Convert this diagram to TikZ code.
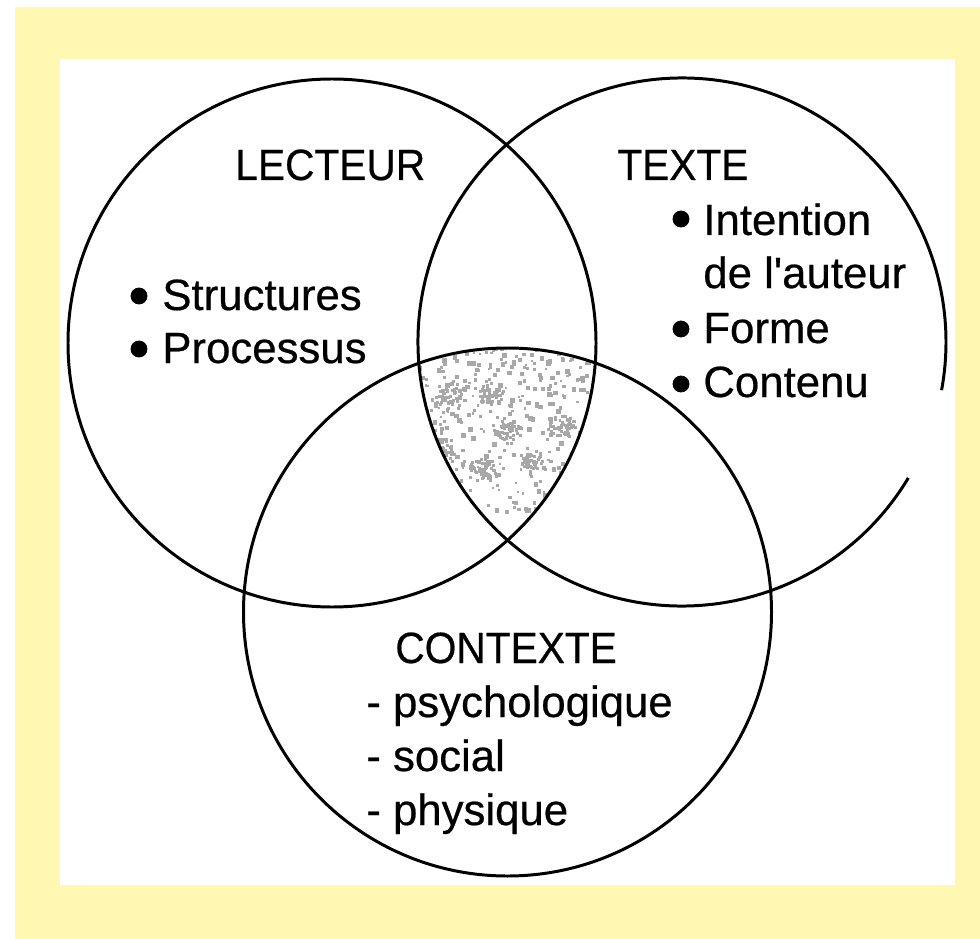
\documentclass[tikz,border=0pt]{standalone}
\usepackage{fontspec}
\setmainfont{Liberation Sans}
\newfontfamily\labelfont[FakeBold=0.5]{Liberation Sans}
\definecolor{paleyellow}{RGB}{255,247,178}
\definecolor{speck}{RGB}{168,168,168}
\begin{document}
\begin{tikzpicture}[x=0.02cm,y=-0.02cm,
  ring/.style={line width=1.7pt, draw=black},
  lbl/.style={anchor=base west, inner sep=0pt, font=\labelfont\fontsize{24.9pt}{30pt}\selectfont},
  bul/.style={circle, fill=black, inner sep=0pt, minimum size=9.6pt}]
\useasboundingbox (0,0) rectangle (980,939);
\fill[white] (0,0) rectangle (980,939);
\fill[paleyellow] (15,7) rectangle (980,939);
\fill[white] (60,59) rectangle (955,885);

\coordinate (L) at (332,343);
\coordinate (R) at (682,342);
\coordinate (B) at (507.5,612);

% speckled common region
\begin{scope}
  \clip (L) circle[radius=264];
  \clip (R) circle[radius=264];
  \clip (B) circle[radius=264];
  \pgfmathsetseed{7}
  \foreach \i in {1,...,380}{
    \pgfmathsetmacro{\px}{415+185*rnd}
    \pgfmathsetmacro{\py}{345+165*rnd^1.4}
    \pgfmathsetmacro{\s}{2+3*rnd}
    \fill[speck] (\px,\py) rectangle ++(\s,\s);
  }
  \foreach \cx/\cy in {447/398, 487/392, 480/468, 530/462, 560/425, 505/430, 440/450}{
    \foreach \j in {1,...,45}{
      \pgfmathsetmacro{\px}{\cx+16*(rnd+rnd-1)}
      \pgfmathsetmacro{\py}{\cy+14*(rnd+rnd-1)}
      \fill[speck] (\px,\py) rectangle ++(3,3);
    }
  }
\end{scope}

% circles
\draw[ring] (L) circle[radius=264];
\draw[ring] (B) circle[radius=264];
\draw[ring] ([shift={(31:264)}]R) arc[start angle=31, end angle=370.5, radius=264];

% LECTEUR
\node[lbl] (lecteur) at (235,180) {\scalebox{0.93}[1]{LECTEUR}};
\node[bul] (b1) at (139,296) {};
\node[lbl] (structures) at (162,310) {Structures};
\node[bul] (b2) at (139,349) {};
\node[lbl] (processus) at (162,363) {Processus};

% TEXTE
\node[lbl] (texte) at (617,180) {\scalebox{0.93}[1]{TEXTE}};
\node[bul] (b3) at (681,219) {};
\node[lbl] (intention) at (703,235) {Intention};
\node[lbl] (auteur) at (703,288) {de l\textquotesingle auteur};
\node[bul] (b4) at (681,329) {};
\node[lbl] (forme) at (703,343) {Forme};
\node[bul] (b5) at (681,384) {};
\node[lbl] (contenu) at (703,397) {Contenu};

% CONTEXTE
\node[lbl] (contexte) at (395,663) {\scalebox{0.93}[1]{CONTEXTE}};
\node[lbl] (psy) at (366,717) {- psychologique};
\node[lbl] (social) at (366,771) {- social};
\node[lbl] (phys) at (366,825) {- physique};
\end{tikzpicture}
\end{document}
